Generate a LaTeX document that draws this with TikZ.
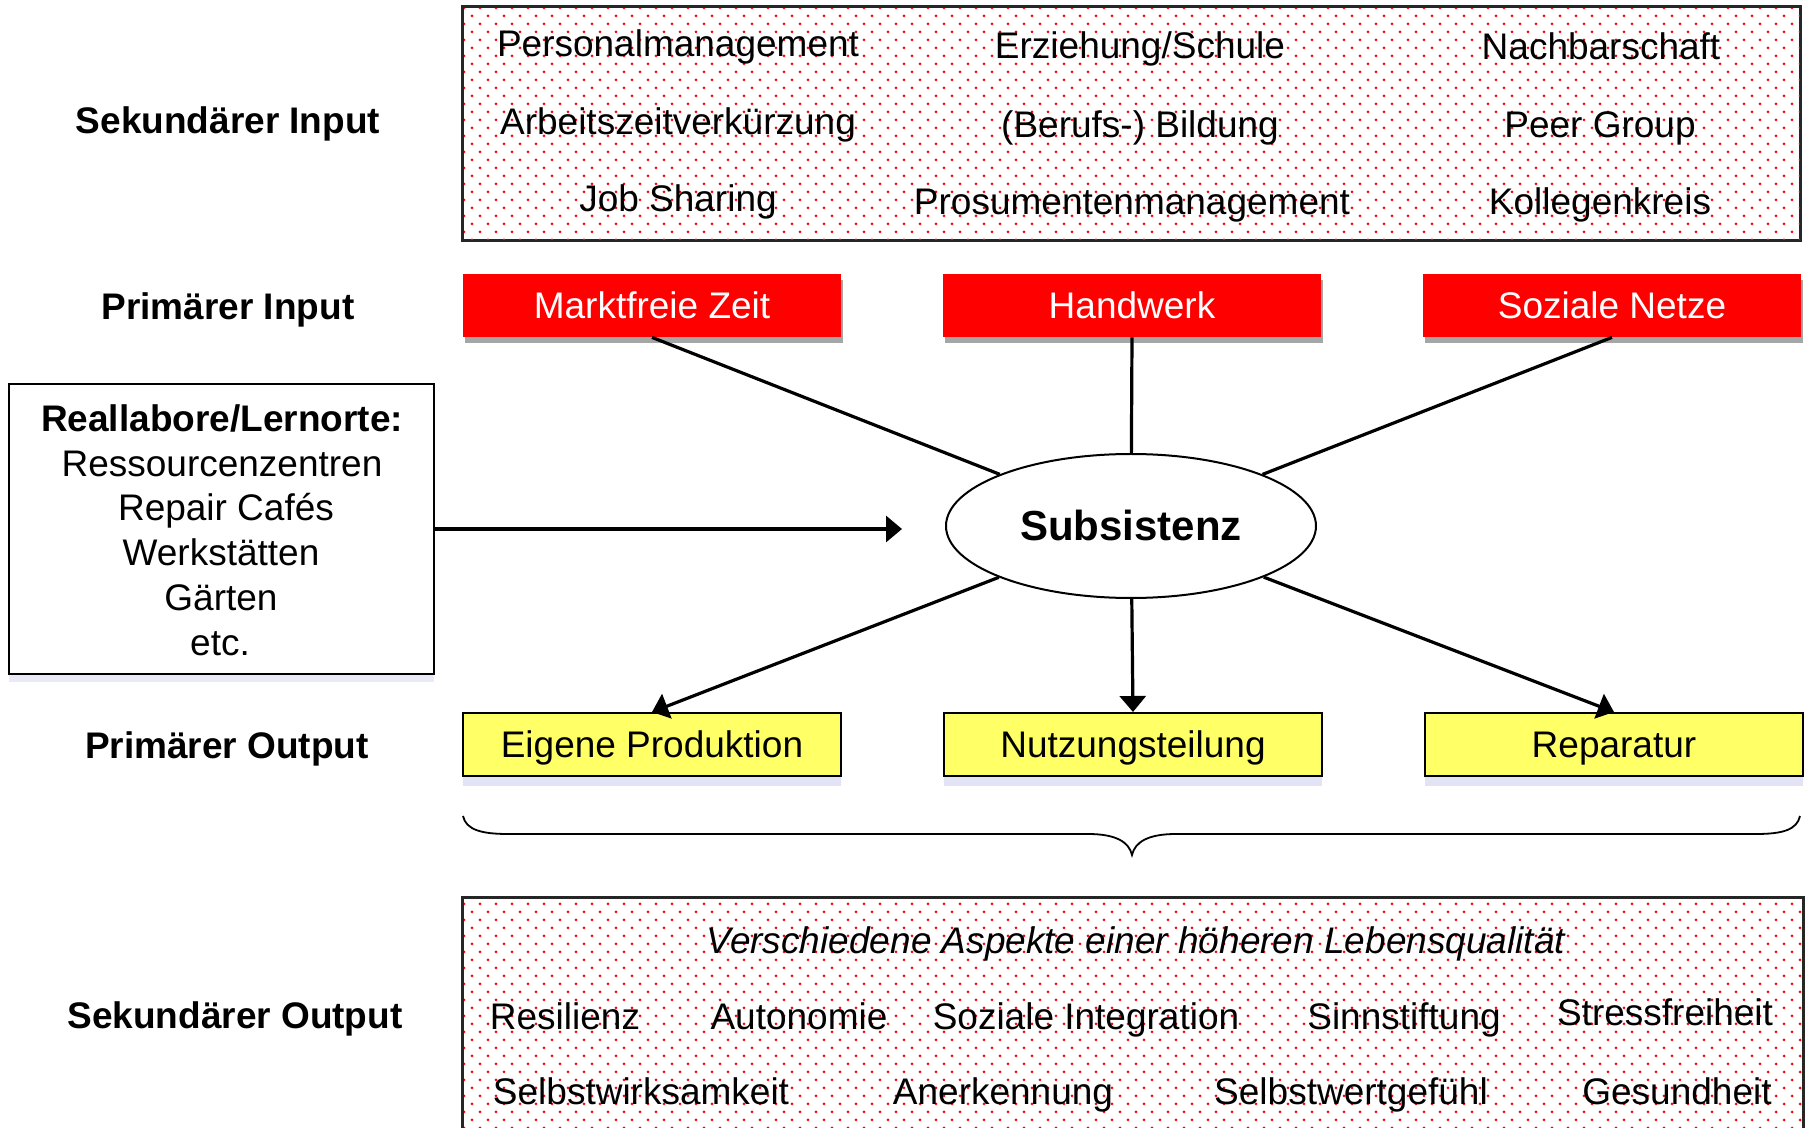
\documentclass[tikz,border=0pt]{standalone}
\usepackage{fontspec}
\setmainfont{Liberation Sans}
\usetikzlibrary{shapes.geometric,arrows.meta,patterns.meta,shadows}
\definecolor{boxred}{RGB}{255,0,0}
\definecolor{boxyel}{RGB}{255,255,102}
\definecolor{lav}{RGB}{200,200,238}
\begin{document}
\begin{tikzpicture}[x=0.5pt,y=-0.5pt,
  base/.style={font=\fontsize{18.5}{22.5}\selectfont, inner sep=0pt},
  txt/.style={base, anchor=base},
  lbl/.style={txt, font=\fontsize{18.5}{22.5}\selectfont\bfseries},
  itx/.style={txt, font=\fontsize{18.5}{22.5}\selectfont\itshape},
  redbox/.style={base, fill=boxred, text=white, minimum width=189pt, minimum height=31.5pt,
    text height=13.3pt, text depth=0pt,
    drop shadow={shadow xshift=1pt, shadow yshift=-3pt, opacity=0.35, fill=black}},
  yelbox/.style={base, draw=black, line width=1pt, fill=boxyel, minimum width=189pt, minimum height=31.5pt,
    text height=13.3pt, text depth=0pt,
    drop shadow={shadow xshift=0pt, shadow yshift=-5pt, opacity=0.5, fill=lav}},
  dotbox/.style={draw=black!85, line width=1pt, pattern={Dots[distance=8pt, radius=0.75pt]}, pattern color=red, inner sep=0pt},
  dotfill/.style={pattern={Dots[distance=8pt, radius=0.75pt, xshift=4pt, yshift=4pt]}, pattern color=red},
  frame/.style={draw=black, line width=1pt, fill=white, inner sep=0pt,
    drop shadow={shadow xshift=0pt, shadow yshift=-4pt, opacity=0.4, fill=lav}},
  conn/.style={line width=1.6pt},
  arr/.style={conn, -{Triangle[width=13pt,length=8pt]}},
]
\useasboundingbox (0,0) rectangle (1812,1128);

% ---------- top dotted box (secondary input) ----------
\node[dotbox, minimum width=668.5pt, minimum height=116.5pt] (topbox) at (1131.5,123.5) {};
\fill[dotfill] (topbox.north west) rectangle (topbox.south east);
\draw[draw=black!85, line width=1pt] (topbox.north west) rectangle (topbox.south east);

\node[txt] (p1) at (678,57)  {Personalmanagement};
\node[txt] (p2) at (678,135) {Arbeitszeitverkürzung};
\node[txt] (p3) at (678,212) {Job Sharing};
\node[txt] (q1) at (1140,59)  {Erziehung/Schule};
\node[txt] (q2) at (1140,138) {(Berufs-) Bildung};
\node[txt] (q3) at (1132,215) {Prosumentenmanagement};
\node[txt] (r1) at (1601,60)  {Nachbarschaft};
\node[txt] (r2) at (1600,138) {Peer Group};
\node[txt] (r3) at (1600,215) {Kollegenkreis};

% ---------- row labels ----------
\node[lbl] (l1) at (228,134)  {Sekundärer Input};
\node[lbl] (l2) at (228,320)  {Primärer Input};
\node[lbl] (l3) at (227,759)  {Primärer Output};
\node[lbl] (l4) at (235,1028) {Sekundärer Output};

% ---------- primary input ----------
\node[redbox] (mz) at (652,305.5)  {Marktfreie Zeit};
\node[redbox] (hw) at (1132,305.5) {Handwerk};
\node[redbox] (sn) at (1612,305.5) {Soziale Netze};

% ---------- centre ----------
\node[ellipse, draw=black, line width=1pt, fill=white, inner sep=0pt,
      minimum width=185pt, minimum height=72pt,
      font=\fontsize{21}{25}\selectfont\bfseries, text height=15pt, text depth=0pt]
      (sub) at (1131,526) {Subsistenz};

% ---------- left box ----------
\node[frame, minimum width=212.5pt, minimum height=145pt] (lbox) at (221.5,529) {};
\node[lbl] (lb1) at (222,432) {Reallabore/Lernorte:};
\node[txt] (lb2) at (222,477) {Ressourcenzentren};
\node[txt] (lb3) at (226,521) {Repair Cafés};
\node[txt] (lb4) at (221,566) {Werkstätten};
\node[txt] (lb5) at (221,611) {Gärten};
\node[txt] (lb6) at (220,656) {etc.};

% ---------- primary output ----------
\node[yelbox] (ep) at (652,744.5)  {Eigene Produktion};
\node[yelbox] (nt) at (1133,744.5) {Nutzungsteilung};
\node[yelbox] (rp) at (1614,744.5) {Reparatur};

% ---------- connectors ----------
\draw[conn] (mz.south) -- (sub);
\draw[conn] (hw.south) -- (sub);
\draw[conn] (sn.south) -- (sub);
\draw[arr] (sub) -- (ep.north);
\draw[arr] (sub) -- (nt.north);
\draw[arr] (sub) -- (rp.north);
\coordinate (lt) at (902,529);
\draw[arr] (lbox.east) -- (lt);

% ---------- brace ----------
\draw[line width=0.9pt]
  (463,816) .. controls (466,830) and (482,834) .. (508,834) -- (1088,834)
  .. controls (1116,834) and (1129,842) .. (1132,855)
  .. controls (1135,842) and (1148,834) .. (1176,834) -- (1756,834)
  .. controls (1782,834) and (1797,830) .. (1800,816);

% ---------- bottom dotted box (secondary output) ----------
\node[dotbox, minimum width=670pt, minimum height=121pt] (botbox) at (1133,1019) {};
\fill[dotfill] (botbox.north west) rectangle (botbox.south east);
\draw[draw=black!85, line width=1pt] (botbox.north west) rectangle (botbox.south east);

\node[itx] (s0) at (1136,953) {Verschiedene Aspekte einer höheren Lebensqualität};
\node[txt] (s1) at (565,1029)  {Resilienz};
\node[txt] (s2) at (799,1029)  {Autonomie};
\node[txt] (s3) at (1086,1029) {Soziale Integration};
\node[txt] (s4) at (1404,1029) {Sinnstiftung};
\node[txt] (s5) at (1665,1025) {Stressfreiheit};
\node[txt] (s6) at (641,1104)  {Selbstwirksamkeit};
\node[txt] (s7) at (1003,1104) {Anerkennung};
\node[txt] (s8) at (1351,1104) {Selbstwertgefühl};
\node[txt] (s9) at (1677,1104) {Gesundheit};
\end{tikzpicture}
\end{document}
